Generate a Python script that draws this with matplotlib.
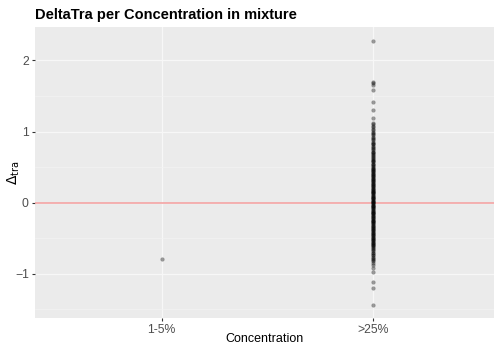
import matplotlib.pyplot as plt

plt.rcParams["font.family"] = ["Liberation Sans", "DejaVu Sans"]

# data ------------------------------------------------------------------------
categories = ["1-5%", ">25%"]
low_values = [-0.79]
high_values = [
    2.27, 1.70, 1.68, 1.65, 1.58, 1.41, 1.31, 1.19, 1.12, 1.10, 1.08, 1.06,
    1.04, 1.02, 1.00, 0.98, 0.96, 0.93, 0.91, 0.88, 0.86, 0.84, 0.82, 0.80,
    0.78, 0.76, 0.74, 0.72, 0.70, 0.69, 0.67, 0.65, 0.63, 0.62, 0.60, 0.58,
    0.57, 0.55, 0.53, 0.52, 0.50, 0.49, 0.47, 0.46, 0.44, 0.43, 0.41, 0.40,
    0.38, 0.37, 0.35, 0.34, 0.33, 0.31, 0.30, 0.28, 0.27, 0.26, 0.24, 0.23,
    0.22, 0.20, 0.19, 0.18, 0.16, 0.15, 0.14, 0.12, 0.11, 0.10, 0.08, 0.07,
    0.06, 0.05, 0.03, 0.02, 0.01, 0.00, -0.01, -0.02, -0.04, -0.05, -0.06,
    -0.07, -0.09, -0.10, -0.11, -0.13, -0.14, -0.15, -0.17, -0.18, -0.19,
    -0.21, -0.22, -0.23, -0.25, -0.26, -0.28, -0.29, -0.31, -0.32, -0.34,
    -0.35, -0.37, -0.38, -0.40, -0.42, -0.43, -0.45, -0.47, -0.49, -0.51,
    -0.53, -0.55, -0.57, -0.59, -0.61, -0.63, -0.65, -0.68, -0.70, -0.73,
    -0.76, -0.79, -0.82, -0.85, -0.88, -0.92, -0.97, -1.12, -1.20, -1.44,
    # second layer in the dense core
    0.95, 0.89, 0.83, 0.77, 0.71, 0.64, 0.59, 0.54, 0.48, 0.42, 0.36, 0.29,
    0.25, 0.21, 0.17, 0.13, 0.09, 0.04, 0.01, -0.03, -0.08, -0.12, -0.16,
    -0.20, -0.24, -0.27, -0.30, -0.33, -0.36, -0.39, -0.41, -0.44, -0.46,
    -0.48, -0.50, -0.52, -0.54, -0.56, -0.58, -0.60, -0.62, -0.66, -0.71,
    -0.74, -0.78, -0.81, 0.45, 0.39, 0.32, 0.15, 0.06, -0.05, -0.15, -0.25,
]

# plot ------------------------------------------------------------------------
fig = plt.figure(figsize=(4.94, 3.47), dpi=100)
ax = fig.add_axes([35 / 494, 1 - 318 / 347, 459 / 494, 291 / 347])
ax.set_facecolor("#EBEBEB")

ax.scatter([1] * len(low_values), low_values, s=9, color="black",
           alpha=0.38, linewidths=0, zorder=3)
ax.scatter([2] * len(high_values), high_values, s=9, color="black",
           alpha=0.38, linewidths=0, zorder=3)
ax.axhline(0, color="#F4A3A3", lw=1.2, zorder=2)

ax.set_xlim(0.4, 2.575)
ax.set_ylim(-1.62, 2.47)
ax.set_xticks([1, 2])
ax.set_xticklabels(categories)
ax.set_yticks([-1, 0, 1, 2])
ax.set_yticks([-1.5, -0.5, 0.5, 1.5], minor=True)

ax.grid(which="major", color="#F7F7F7", lw=0.9, zorder=0)
ax.grid(which="minor", axis="y", color="#F3F3F3", lw=0.5, zorder=0)
ax.set_axisbelow(True)
for s in ax.spines.values():
    s.set_visible(False)
ax.tick_params(which="major", length=2.5, color="#333333", labelcolor="#4D4D4D",
               labelsize=8.8, pad=2)
ax.tick_params(which="minor", length=0)

ax.set_xlabel("Concentration", fontsize=9)
ax.xaxis.set_label_coords(0.5, -0.05)
ax.set_ylabel(r"$\Delta_{\mathrm{tra}}$", fontsize=10)
ax.yaxis.set_label_coords(-0.028, 0.5)
ax.set_title("DeltaTra per Concentration in mixture", fontsize=10.5,
             fontweight="bold", loc="left", pad=6)

fig.savefig("out.png", dpi=100)
